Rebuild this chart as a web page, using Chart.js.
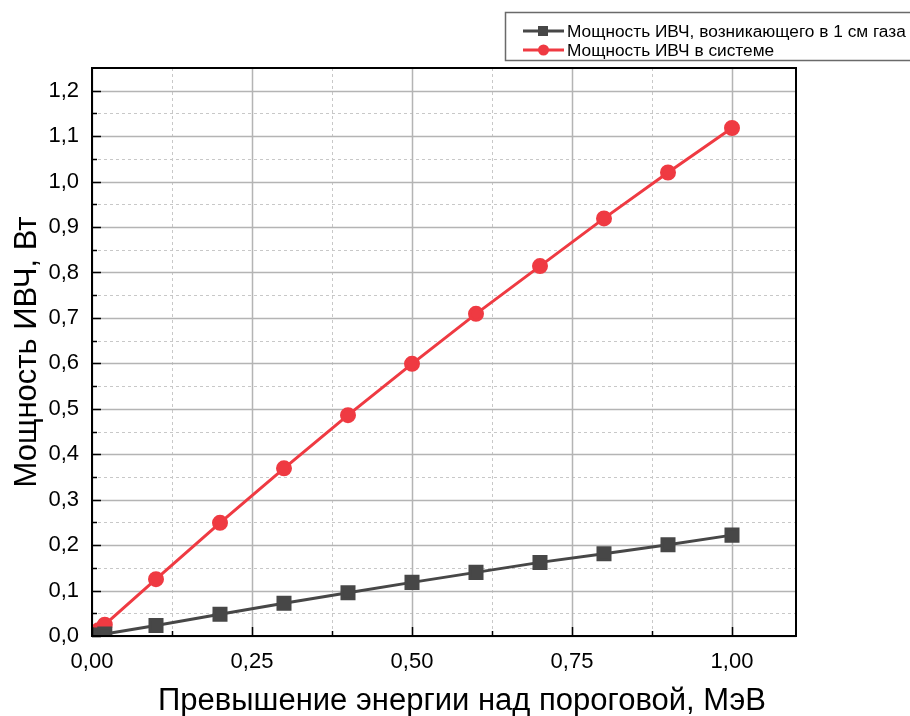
<!DOCTYPE html>
<html>
<head>
    <meta charset="UTF-8">
    <title>Мощность ИВЧ</title>
    <script src="https://cdn.jsdelivr.net/npm/chart.js"></script>
    <style>
        html, body { margin: 0; padding: 0; background: #fff; }
        #wrap { width: 910px; height: 716px; }
    </style>
</head>
<body>
<div id="wrap"><canvas id="power"></canvas></div>
<script>
    // data
    const energy = [0, 0.01, 0.02, 0.1, 0.2, 0.3, 0.4, 0.5, 0.6, 0.7, 0.8, 0.9, 1.0];
    const powerPerCm = [0, 0.0022, 0.0045, 0.023, 0.048, 0.072, 0.095, 0.118, 0.140, 0.162, 0.181, 0.201, 0.222];
    const powerSystem = [0, 0.0125, 0.025, 0.125, 0.249, 0.369, 0.486, 0.599, 0.709, 0.814, 0.919, 1.020, 1.118];

    const xTicks = [0, 0.25, 0.5, 0.75, 1.0];
    const xMinorTicks = [0.125, 0.375, 0.625, 0.875, 1.125];
    const yTicks = [0, 0.1, 0.2, 0.3, 0.4, 0.5, 0.6, 0.7, 0.8, 0.9, 1.0, 1.1, 1.2];
    const yMinorTicks = [0.05, 0.15, 0.25, 0.35, 0.45, 0.55, 0.65, 0.75, 0.85, 0.95, 1.05, 1.15];

    const seriesNames = ['Мощность ИВЧ, возникающего в 1 см газа', 'Мощность ИВЧ в системе'];
    const xTitle = 'Превышение энергии над пороговой, МэВ';
    const yTitle = 'Мощность ИВЧ, Вт';
    const darkColor = '#474747';
    const redColor = '#ef3a42';
    const font = '"Liberation Sans", Arial, sans-serif';

    const toPoints = (xs, ys) => xs.map((x, i) => ({x: x, y: ys[i]}));

    // grid, inner ticks, frame, x title and the legend box, all in origin style
    const originFrame = {
        id: 'originFrame',
        beforeDatasetsDraw(chart) {
            const {ctx, chartArea: a, scales: {x, y}} = chart;
            ctx.save();
            ctx.lineWidth = 1;
            // minor dashed
            ctx.strokeStyle = '#c8c8c8';
            ctx.setLineDash([3, 3]);
            xMinorTicks.forEach(v => {
                const px = Math.round(x.getPixelForValue(v)) + 0.5;
                if (px > a.right) return;
                ctx.beginPath(); ctx.moveTo(px, a.top); ctx.lineTo(px, a.bottom); ctx.stroke();
            });
            yMinorTicks.forEach(v => {
                const py = Math.round(y.getPixelForValue(v)) + 0.5;
                ctx.beginPath(); ctx.moveTo(a.left, py); ctx.lineTo(a.right, py); ctx.stroke();
            });
            // major solid
            ctx.setLineDash([]);
            ctx.strokeStyle = '#b4b4b4';
            ctx.lineWidth = 1.5;
            xTicks.forEach(v => {
                const px = Math.round(x.getPixelForValue(v)) + 0.5;
                ctx.beginPath(); ctx.moveTo(px, a.top); ctx.lineTo(px, a.bottom); ctx.stroke();
            });
            yTicks.forEach(v => {
                const py = Math.round(y.getPixelForValue(v)) + 0.5;
                ctx.beginPath(); ctx.moveTo(a.left, py); ctx.lineTo(a.right, py); ctx.stroke();
            });
            ctx.restore();
        },
        afterDraw(chart) {
            const {ctx, chartArea: a, scales: {x, y}} = chart;
            ctx.save();
            ctx.strokeStyle = '#000';
            ctx.lineWidth = 1.5;
            // ticks pointing in
            xTicks.forEach(v => {
                const px = Math.round(x.getPixelForValue(v)) + 0.5;
                ctx.beginPath(); ctx.moveTo(px, a.bottom); ctx.lineTo(px, a.bottom - 9); ctx.stroke();
            });
            xMinorTicks.forEach(v => {
                const px = Math.round(x.getPixelForValue(v)) + 0.5;
                if (px > a.right) return;
                ctx.beginPath(); ctx.moveTo(px, a.bottom); ctx.lineTo(px, a.bottom - 5); ctx.stroke();
            });
            yTicks.forEach(v => {
                const py = Math.round(y.getPixelForValue(v)) + 0.5;
                ctx.beginPath(); ctx.moveTo(a.left, py); ctx.lineTo(a.left + 9, py); ctx.stroke();
            });
            yMinorTicks.forEach(v => {
                const py = Math.round(y.getPixelForValue(v)) + 0.5;
                ctx.beginPath(); ctx.moveTo(a.left, py); ctx.lineTo(a.left + 5, py); ctx.stroke();
            });
            // frame
            ctx.lineWidth = 2;
            ctx.strokeRect(a.left, a.top, a.right - a.left, a.bottom - a.top);

            // x title, sits a bit right of the plot centre in the original
            ctx.fillStyle = '#000';
            ctx.font = '31px ' + font;
            ctx.textAlign = 'center';
            ctx.textBaseline = 'middle';
            ctx.fillText(xTitle, 462, 701);

            // legend
            ctx.strokeStyle = '#6a6a6a';
            ctx.lineWidth = 1.5;
            ctx.strokeRect(505.5, 12.5, 420, 48);
            ctx.font = '17.3px ' + font;
            ctx.textAlign = 'left';
            chart.data.datasets.forEach((ds, i) => {
                const ly = 31 + i * 19;
                ctx.strokeStyle = ds.borderColor;
                ctx.lineWidth = 3;
                ctx.beginPath(); ctx.moveTo(523, ly); ctx.lineTo(564, ly); ctx.stroke();
                ctx.fillStyle = ds.borderColor;
                if (ds.pointStyle === 'rect') {
                    ctx.fillRect(538, ly - 5, 10, 10);
                } else {
                    ctx.beginPath(); ctx.arc(543.5, ly, 5.5, 0, Math.PI * 2); ctx.fill();
                }
                ctx.fillStyle = '#000';
                ctx.fillText(ds.label, 567, ly + 1);
            });
            ctx.restore();
        }
    };

    const config = {
        type: 'line',
        data: {
            datasets: [{
                label: seriesNames[0],
                data: toPoints(energy, powerPerCm),
                borderColor: darkColor,
                backgroundColor: darkColor,
                borderWidth: 3,
                pointStyle: 'rect',
                pointRadius: 8.5,
                pointHoverRadius: 8.5
            }, {
                label: seriesNames[1],
                data: toPoints(energy, powerSystem),
                borderColor: redColor,
                backgroundColor: redColor,
                borderWidth: 3,
                pointStyle: 'circle',
                pointRadius: 6.5,
                pointHoverRadius: 6.5
            }]
        },
        options: {
            responsive: true,
            maintainAspectRatio: false,
            animation: false,
            layout: {
                padding: {top: 68, right: 114, left: 0, bottom: 0}
            },
            plugins: {
                legend: {display: false},
                tooltip: {enabled: false}
            },
            scales: {
                x: {
                    type: 'linear',
                    min: 0,
                    max: 1.1,
                    grid: {display: false, drawTicks: false},
                    border: {display: false},
                    afterBuildTicks: s => { s.ticks = xTicks.map(v => ({value: v})); },
                    afterFit: s => { s.height = 80; },
                    ticks: {
                        padding: 13,
                        color: '#000',
                        font: {family: font, size: 22},
                        maxRotation: 0,
                        callback: v => v.toFixed(2).replace('.', ',')
                    },
                    title: {display: false}
                },
                y: {
                    type: 'linear',
                    min: 0,
                    max: 1.25,
                    grid: {display: false, drawTicks: false},
                    border: {display: false},
                    afterBuildTicks: s => { s.ticks = yTicks.map(v => ({value: v})); },
                    afterFit: s => { s.width = 92; },
                    ticks: {
                        padding: 13,
                        color: '#000',
                        font: {family: font, size: 22},
                        callback: v => v.toFixed(1).replace('.', ',')
                    },
                    title: {
                        display: true,
                        text: yTitle,
                        color: '#000',
                        font: {family: font, size: 31},
                        padding: {top: 9, bottom: 0}
                    }
                }
            }
        },
        plugins: [originFrame]
    };

    window.chart = new Chart(document.getElementById('power').getContext('2d'), config);
</script>
</body>
</html>
